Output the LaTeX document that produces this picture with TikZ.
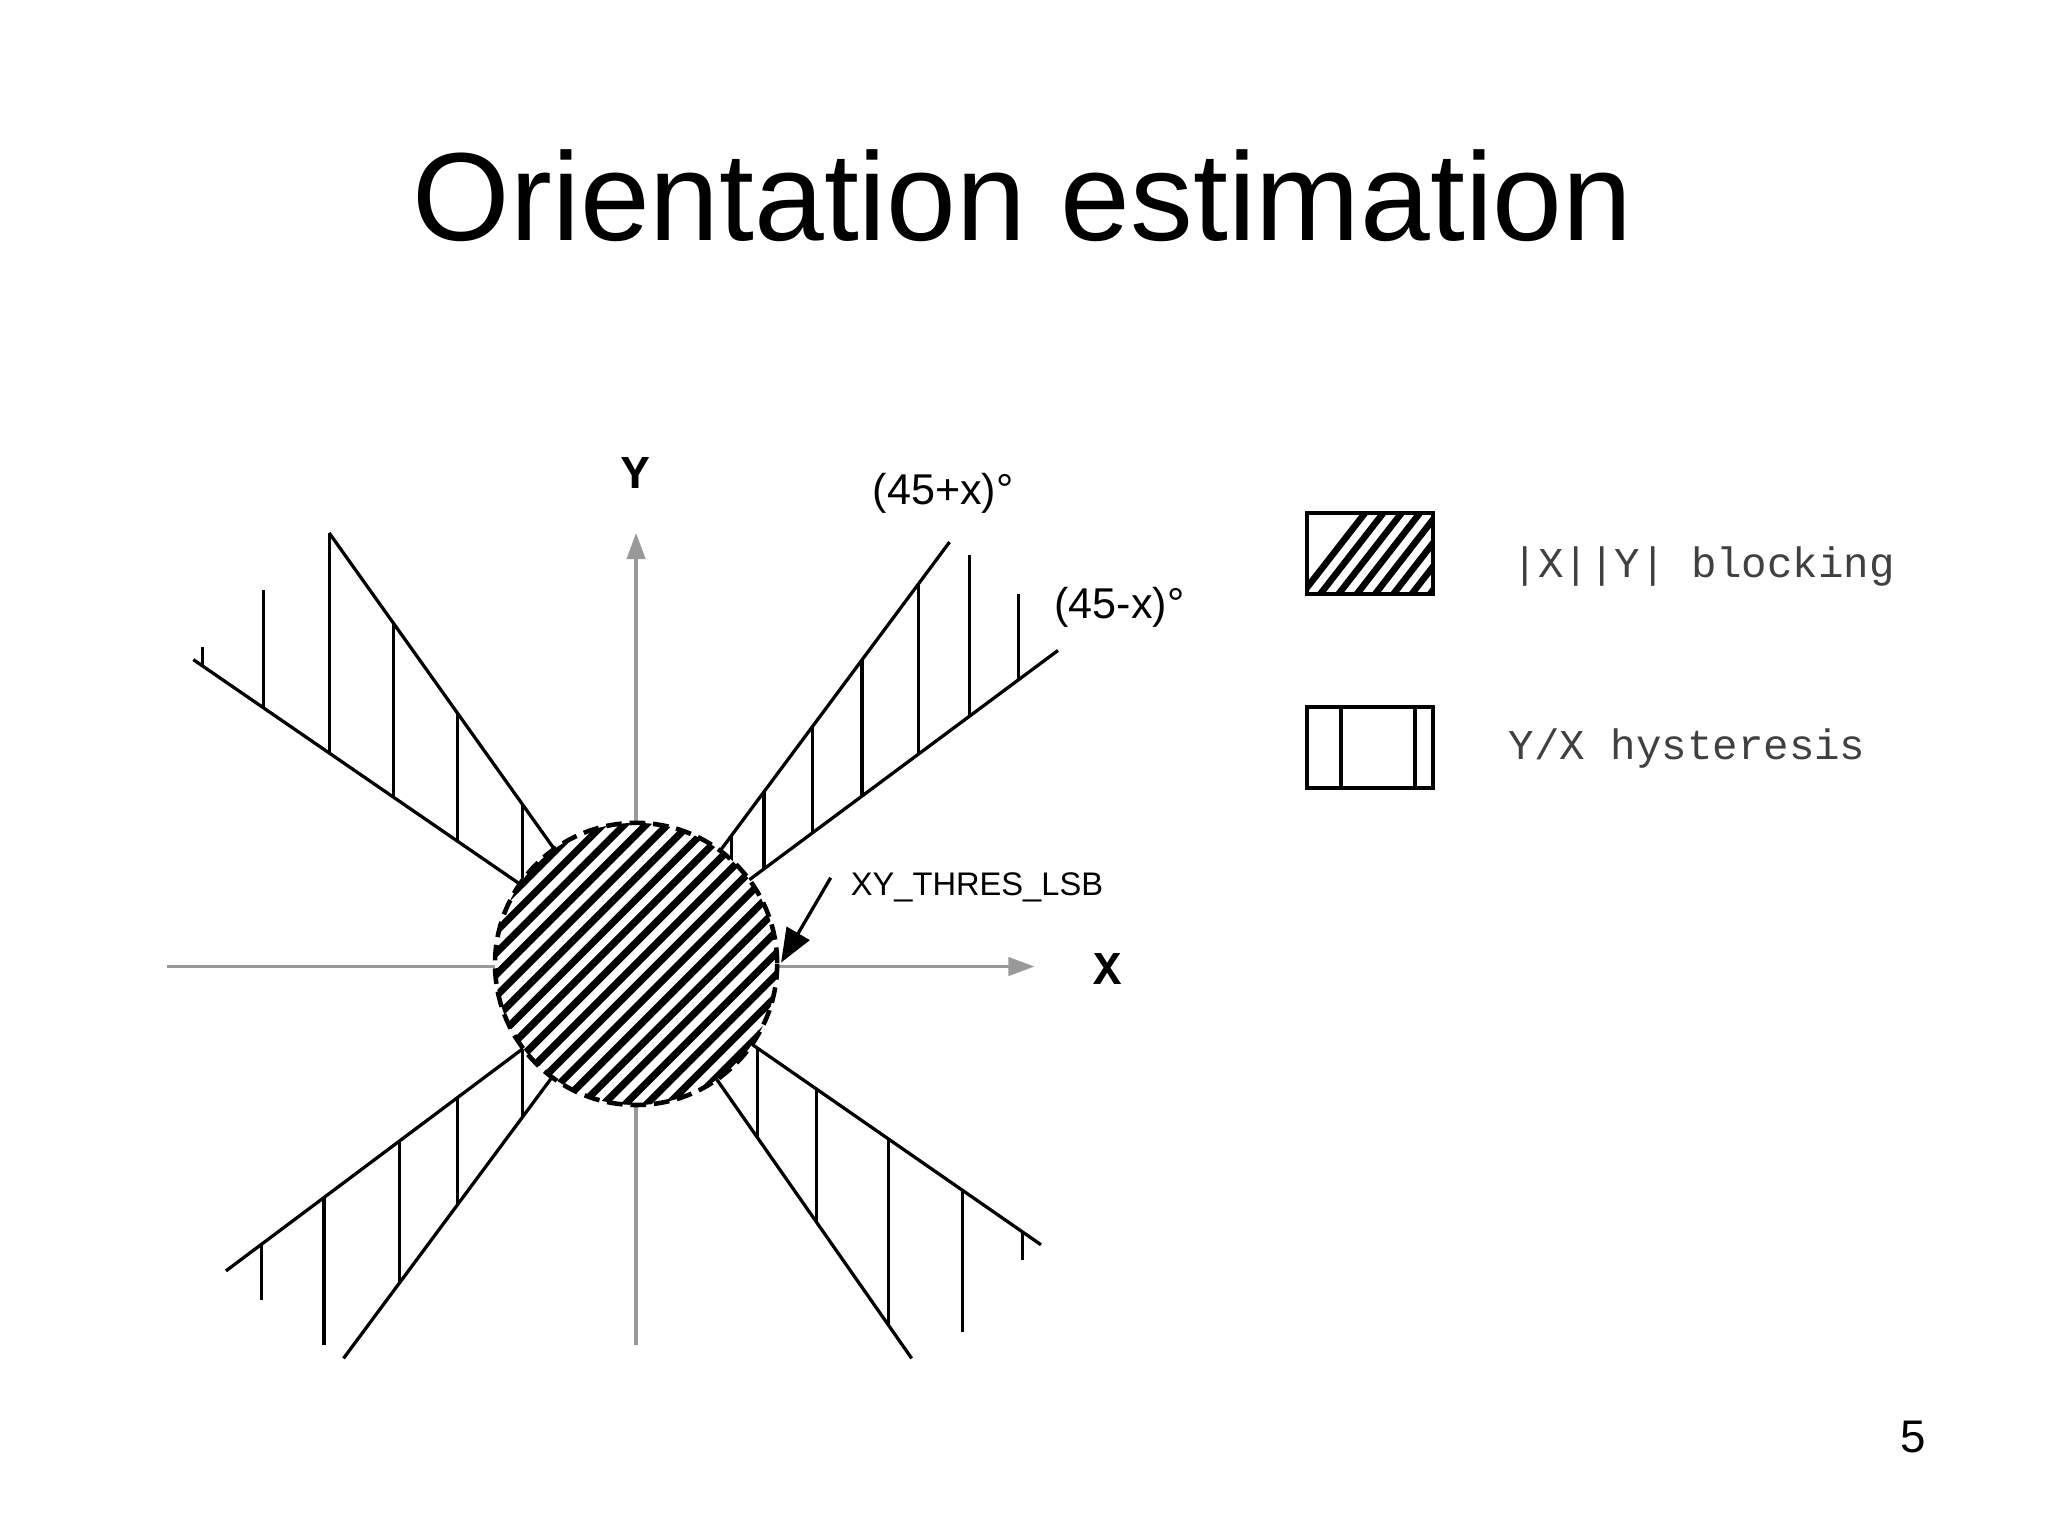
\documentclass[tikz,border=0pt]{standalone}
\usepackage{fontspec}
\setmainfont{Liberation Sans}
\setmonofont{Liberation Mono}
\usetikzlibrary{arrows.meta,calc}
\begin{document}
\begin{tikzpicture}[x=1pt,y=-1pt,
  axis/.style={draw=gray!80,line width=2.5pt,-{Triangle[length=20pt,width=14pt]}},
  ray/.style={draw=black,line width=2.5pt},
  hatch/.style={draw=black,line width=2.5pt},
  lbl/.style={font=\fontsize{33}{36}\selectfont,inner sep=0pt},
  mono/.style={font=\ttfamily\fontsize{32.5}{34}\selectfont,text=black!75,inner sep=0pt,anchor=west}]
\useasboundingbox (0,0) rectangle (1568,1176);
\fill[white] (0,0) rectangle (1568,1176);
\node[inner sep=0pt,font=\fontsize{96}{110}\selectfont] (title) at (783,150) {Orientation estimation};
\node[inner sep=0pt,font=\fontsize{35}{40}\selectfont] (page) at (1465,1100) {5};
% axes
\coordinate (ybot) at (487,1030); \coordinate (ytop) at (487,408);
\coordinate (xl) at (128,740); \coordinate (xr) at (792,740);
\draw[axis] (ybot) -- (ytop);
\draw[axis] (xl) -- (xr);
\node[font=\ttfamily\bfseries\fontsize{36}{36}\selectfont,inner sep=0pt] (Y) at (487,362) {Y};
\node[font=\ttfamily\bfseries\fontsize{36}{36}\selectfont,inner sep=0pt] (X) at (848,742) {X};
% rays
\coordinate (c) at (487,738);
\foreach \p in {(727,415),(810,498),(252,408),(148,505),(173,973),(263,1040),(698,1040),(797,953)}
  \draw[ray] (c) -- \p;
% hatching
\foreach \x/\a/\b in {560/684/640,585/665/606,622/638/556,660/609/505,703/578/447,742/549/425,780/520/455,
  400/678/616,350/643/546,301/610/477,252/576/408,202/541/452,155/509/495,
  400/803/855,350/840/923,306/873/982,248/917/1030,200/953/995,
  580/803/871,625/834/935,680/872/1014,737/911/1020,783/943/965}
  \draw[hatch] (\x,\a) -- (\x,\b);
% circle
\fill[white] (c) circle (108);
\begin{scope}
  \clip (c) circle (108);
  \foreach \k in {-12,...,12}
    \draw[line width=5.5pt] ($(c)+(\k*16.5,0)+(-150,150)$) -- ++(300,-300);
\end{scope}
\draw[line width=3.5pt,dash pattern=on 12pt off 6pt] (c) circle (108);
% threshold arrow
\node[font=\fontsize{25}{28}\selectfont,inner sep=0pt] (thr) at (748,679) {XY\_THRES\_LSB};
\coordinate (thrs) at (636,672); \coordinate (thre) at (598,737);
\draw[line width=2.5pt,-{Triangle[length=26pt,width=20pt]}] (thrs) -- (thre);
\node[lbl] (a1) at (722,378) {(45+x)°};
\node[lbl] (a2) at (857,465) {(45-x)°};
% legend
\begin{scope}
  \clip (1001,393) rectangle (1097,455);
  \foreach \k in {0,...,10}
    \draw[line width=5pt] (985+\k*14,470) -- ++(70,-90);
\end{scope}
\draw[line width=3pt] (1001,393) rectangle (1097,455);
\node[mono] (l1) at (1158,434) {|X||Y| blocking};
\draw[line width=3pt] (1001,541) rectangle (1097,603);
\draw[line width=3pt] (1027,541) -- (1027,603);
\draw[line width=3pt] (1083,541) -- (1083,603);
\node[mono] (l2) at (1155,573) {Y/X hysteresis};
\end{tikzpicture}
\end{document}
